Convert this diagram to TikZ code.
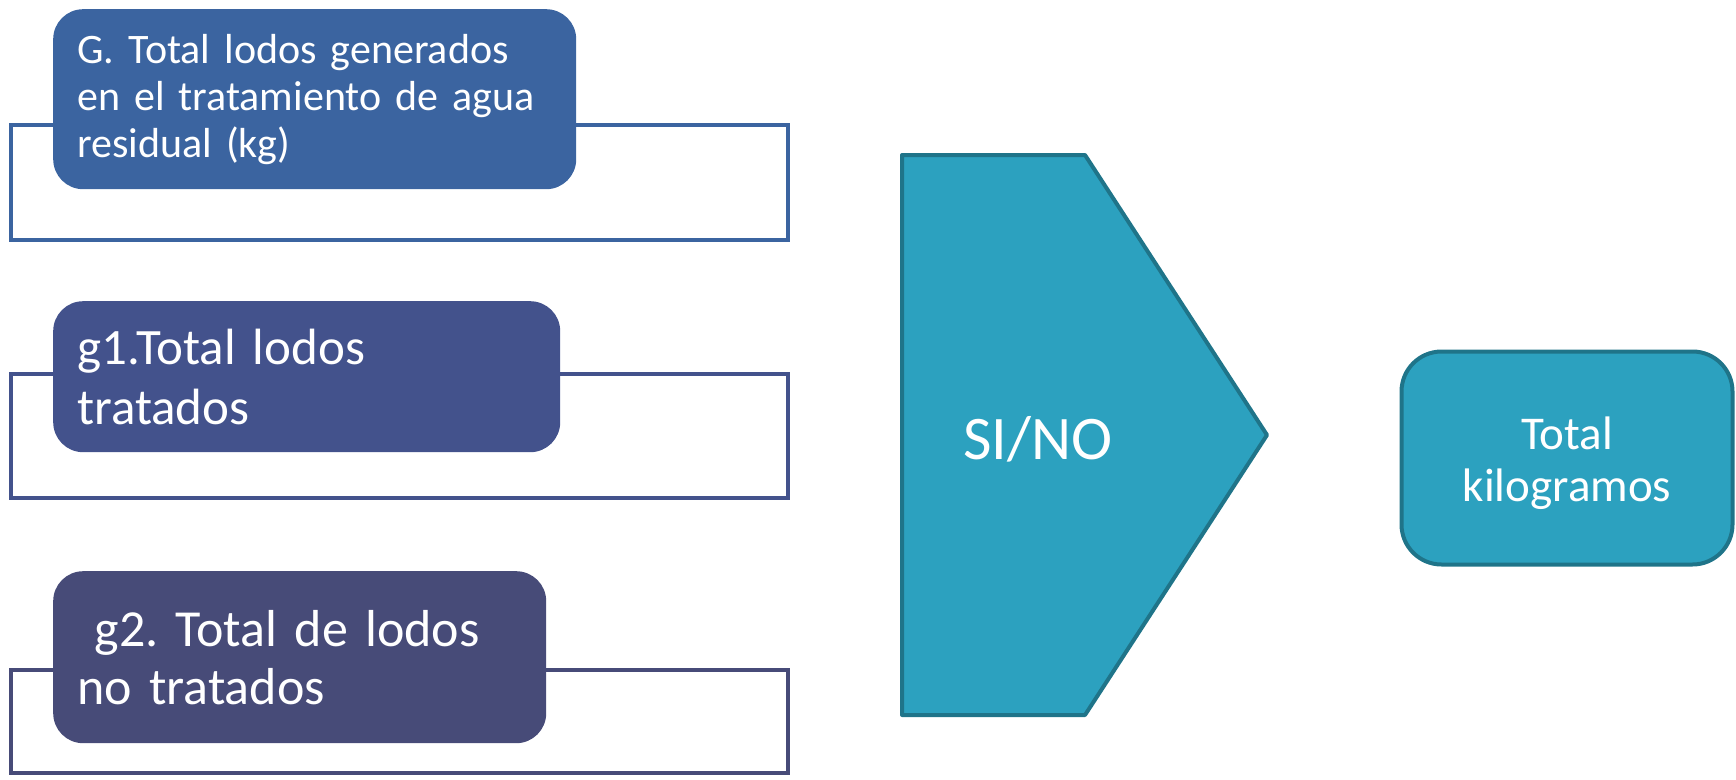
\documentclass[tikz,border=0pt]{standalone}
\usepackage{fontspec}
\setmainfont{Carlito}
\usetikzlibrary{positioning}

\definecolor{azulG}{HTML}{3B64A0}
\definecolor{azulA}{HTML}{43528C}
\definecolor{azulB}{HTML}{474B78}
\definecolor{turq}{HTML}{2CA1BF}
\definecolor{turqB}{HTML}{1F7489}

\tikzset{
    lodo/.style={rounded corners=30pt, text=white, align=left, anchor=north west,
        inner xsep=24pt, inner ysep=0pt},
    marco/.style={line width=4pt},
}

\begin{document}
\frenchspacing
\begin{tikzpicture}[x=1pt,y=-1pt]
    \useasboundingbox (0,0) rectangle (1736,779);

    % marcos detras de las cajas
    \draw[marco, azulG] (11,125) rectangle (788,240);
    \draw[marco, azulA] (11,374) rectangle (788,498);
    \draw[marco, azulB] (11,670) rectangle (788,773);

    \node[lodo, fill=azulG, text width=475pt, minimum height=180pt,
        font=\fontsize{42}{47}\selectfont] (G) at (53,9)
        {G. Total lodos generados\\en el tratamiento de agua\\residual (kg)};
    \node[lodo, fill=azulA, text width=459pt, minimum height=151pt,
        font=\fontsize{51}{60}\selectfont] (g1) at (53,301)
        {g1.Total lodos\\tratados};
    \node[lodo, fill=azulB, text width=445pt, minimum height=172pt,
        font=\fontsize{52}{58}\selectfont] (g2) at (53,571)
        {\ g2. Total de lodos\\no tratados};

    % flecha SI/NO
    \coordinate (p1) at (902,155);
    \coordinate (p2) at (1085,155);
    \coordinate (p3) at (1267,435);
    \coordinate (p4) at (1085,715);
    \coordinate (p5) at (902,715);
    \draw[fill=turq, draw=turqB, line width=4pt, line join=round]
        (p1) -- (p2) -- (p3) -- (p4) -- (p5) -- cycle;
    \node[text=white, font=\fontsize{62}{70}\selectfont] (sino) at (1038,439) {SI/NO};

    \node[draw=turqB, fill=turq, line width=4pt, rounded corners=40pt,
        minimum width=331pt, minimum height=213pt] (total) at (1567,458) {};
    \node[text=white, align=center, font=\fontsize{47}{52}\selectfont]
        (totaltxt) at ([yshift=-5pt]total.center) {Total\\kilogramos};
\end{tikzpicture}
\end{document}
